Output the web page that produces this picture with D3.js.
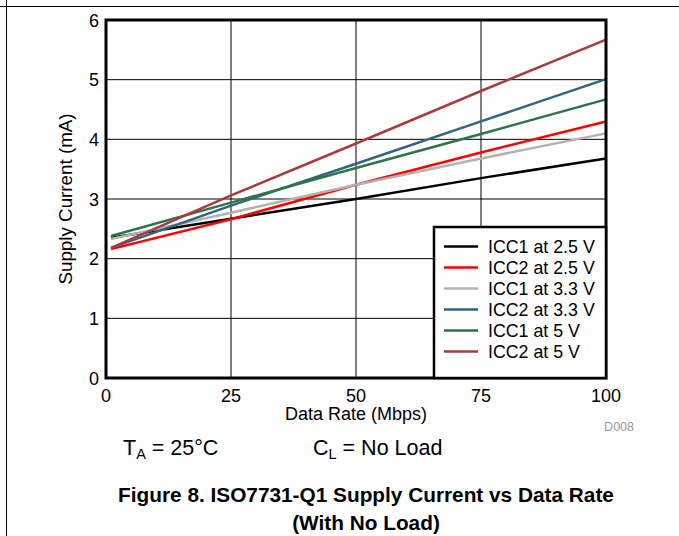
<!DOCTYPE html>
<html>
<head>
<meta charset="utf-8">
<script src="https://cdn.jsdelivr.net/npm/d3@7.9.0/dist/d3.min.js"></script>
<style>
  body { margin: 0; background: #fff; }
  svg { display: block; font-family: "Liberation Sans", Arial, sans-serif; }
</style>
</head>
<body>
<svg id="chart" width="679" height="536"></svg>
<script>
// data rate (Mbps) sample points
const rates = [1, 25, 50, 75, 100];

const icc1_25 = [2.35, 2.67, 3.00, 3.35, 3.68];
const icc2_25 = [2.16, 2.66, 3.24, 3.78, 4.30];
const icc1_33 = [2.33, 2.77, 3.24, 3.68, 4.10];
const icc2_33 = [2.18, 2.89, 3.59, 4.30, 5.01];
const icc1_5 = [2.38, 2.94, 3.52, 4.09, 4.67];
const icc2_5 = [2.18, 3.06, 3.93, 4.81, 5.67];

const seriesNames = ['ICC1 at 2.5 V', 'ICC2 at 2.5 V', 'ICC1 at 3.3 V', 'ICC2 at 3.3 V', 'ICC1 at 5 V', 'ICC2 at 5 V'];
const seriesColors = ['#000000', '#ff0000', '#b3b3b3', '#2f6482', '#2f7347', '#a83c3c'];
const seriesValues = [icc1_25, icc2_25, icc1_33, icc2_33, icc1_5, icc2_5];

const xTicks = [0, 25, 50, 75, 100];
const yTicks = [0, 1, 2, 3, 4, 5, 6];

const svg = d3.select('#chart');

// page frame lines
svg.append('line').attr('x1', 0).attr('x2', 679).attr('y1', 6.5).attr('y2', 6.5)
    .attr('stroke', '#000').attr('stroke-width', 1);
svg.append('line').attr('x1', 6.5).attr('x2', 6.5).attr('y1', 0).attr('y2', 536)
    .attr('stroke', '#000').attr('stroke-width', 1);

const pLeft = 106, pRight = 606, pTop = 20, pBottom = 378;

let x = d3.scaleLinear().domain([0, 100]).range([pLeft, pRight]);
let y = d3.scaleLinear().domain([0, 6]).range([pBottom, pTop]);

// grid
svg.append('g')
    .selectAll('line')
    .data(xTicks.slice(1, -1))
    .join('line')
    .attr('x1', (d) => x(d)).attr('x2', (d) => x(d))
    .attr('y1', pTop).attr('y2', pBottom)
    .attr('stroke', '#000').attr('stroke-width', 1);

svg.append('g')
    .selectAll('line')
    .data(yTicks.slice(1, -1))
    .join('line')
    .attr('x1', pLeft).attr('x2', pRight)
    .attr('y1', (d) => y(d)).attr('y2', (d) => y(d))
    .attr('stroke', '#000').attr('stroke-width', 1);

// series
let line = d3.line()
    .x((d) => x(d[0]))
    .y((d) => y(d[1]));

seriesValues.forEach((vals, idx) => {
    svg.append('path')
        .datum(rates.map((r, i) => [r, vals[i]]))
        .attr('d', line)
        .attr('fill', 'none')
        .attr('stroke', seriesColors[idx])
        .attr('stroke-width', 2.5);
});

// plot border
svg.append('rect')
    .attr('x', pLeft).attr('y', pTop)
    .attr('width', pRight - pLeft).attr('height', pBottom - pTop)
    .attr('fill', 'none').attr('stroke', '#000').attr('stroke-width', 3);

// legend
const legend = svg.append('g');
legend.append('rect')
    .attr('x', 434).attr('y', 227)
    .attr('width', pRight - 434).attr('height', pBottom - 227)
    .attr('fill', '#fff').attr('stroke', '#000').attr('stroke-width', 2.5);

seriesNames.forEach((name, idx) => {
    let ly = 246.5 + idx * 21;
    legend.append('line')
        .attr('x1', 444).attr('x2', 478)
        .attr('y1', ly).attr('y2', ly)
        .attr('stroke', seriesColors[idx]).attr('stroke-width', 2.5);
    legend.append('text')
        .attr('x', 488).attr('y', ly + 6.5)
        .attr('font-size', 17.8)
        .text(name);
});

// y tick labels
svg.append('g')
    .selectAll('text')
    .data(yTicks)
    .join('text')
    .attr('x', 99).attr('y', (d) => y(d) + 6.5)
    .attr('text-anchor', 'end')
    .attr('font-size', 18)
    .text((d) => d);

// x tick labels
svg.append('g')
    .selectAll('text')
    .data(xTicks)
    .join('text')
    .attr('x', (d) => x(d)).attr('y', 401.5)
    .attr('text-anchor', 'middle')
    .attr('font-size', 18)
    .text((d) => d);

// axis titles
svg.append('text')
    .attr('x', x(50)).attr('y', 420)
    .attr('text-anchor', 'middle')
    .attr('font-size', 18)
    .text('Data Rate (Mbps)');

svg.append('text')
    .attr('transform', `translate(72, ${(pTop + pBottom) / 2}) rotate(-90)`)
    .attr('text-anchor', 'middle')
    .attr('font-size', 18.8)
    .text('Supply Current (mA)');

svg.append('text')
    .attr('x', 634).attr('y', 431)
    .attr('text-anchor', 'end')
    .attr('font-size', 12.5)
    .attr('fill', '#999')
    .text('D008');

// conditions
const cond = svg.append('text').attr('y', 455).attr('font-size', 21.5);
cond.append('tspan').attr('x', 123).text('T');
cond.append('tspan').attr('font-size', 14.5).attr('dy', 4).text('A');
cond.append('tspan').attr('dy', -4).text(' = 25°C');
const cond2 = svg.append('text').attr('y', 455).attr('font-size', 21.5);
cond2.append('tspan').attr('x', 313).text('C');
cond2.append('tspan').attr('font-size', 14.5).attr('dy', 4).text('L');
cond2.append('tspan').attr('dy', -4).text(' = No Load');

// caption
svg.append('text')
    .attr('x', 366).attr('y', 502)
    .attr('text-anchor', 'middle')
    .attr('font-size', 20.8).attr('font-weight', 'bold')
    .text('Figure 8. ISO7731-Q1 Supply Current vs Data Rate');
svg.append('text')
    .attr('x', 366).attr('y', 530)
    .attr('text-anchor', 'middle')
    .attr('font-size', 20.8).attr('font-weight', 'bold')
    .text('(With No Load)');
</script>
</body>
</html>
